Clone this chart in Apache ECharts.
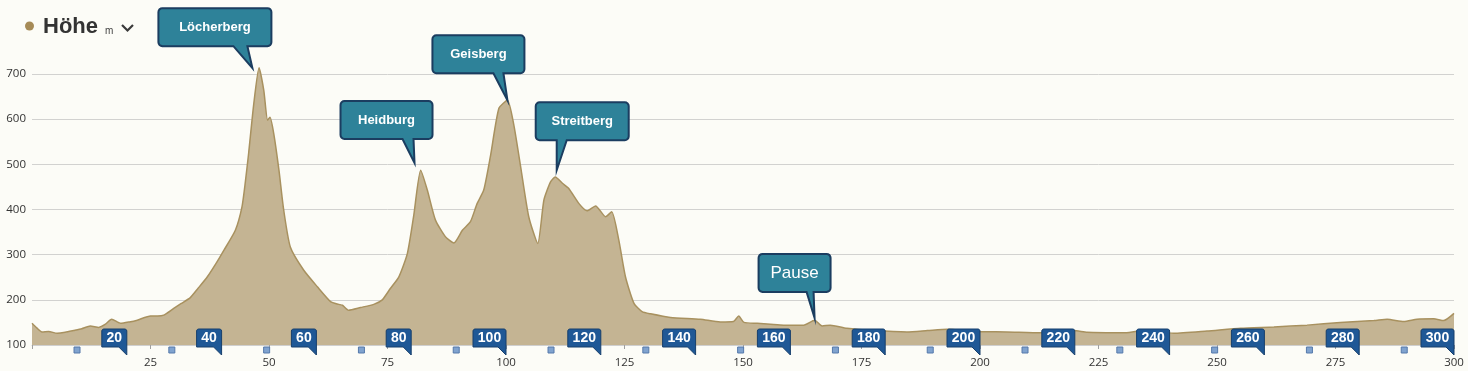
<!DOCTYPE html>
<html>
<head>
<meta charset="utf-8">
<script src="https://cdn.jsdelivr.net/npm/echarts@6/dist/echarts.min.js"></script>
<style>
html,body{margin:0;padding:0;background:#fcfcf7;}
#chart{width:1468px;height:371px;}
</style>
</head>
<body>
<div id="chart"></div>
<script>
// ---- data ----
const distanceKm = [0,1,2.1,3.5,5.3,7,8.8,10.5,12.3,14.1,15.5,16.8,18.7,20.5,22.2,25,26.5,27.8,29.9,31.5,33.4,35,37,38.8,40.5,42.9,44.3,45,45.7,46.8,47.9,48.9,49.7,50.2,51,52.1,53.1,54.5,57.3,60.2,63,64.7,65.5,66.8,69.3,72.1,73.9,75.6,77.4,79.2,80.5,82,83.4,85.1,87.2,89,90.8,92.5,93.9,95.3,96.7,98.5,100.3,101.6,103.1,104.8,106.7,108,109.4,110.4,111.9,113.2,115.4,117.1,118.9,121,122.3,123.8,125.2,127,128.7,130.5,134.7,141,145.2,148,149.1,150.2,153,155.8,158.6,162.8,165.1,166.7,168.4,171.9,177.6,184.6,188.9,193.1,198.7,205.7,212.8,219.8,222.6,230.3,233.9,240.9,247.9,255,262,269,276,283.1,285.9,289.4,292.2,295.7,297.8,300];
const elevationM = [148,138,129,130,126,128,132,136,142,139,146,157,148,151,155,164,164,166,181,192,205,225,251,280,310,354,406,460,524,635,714,664,598,604,568,487,399,317,266,229,196,190,188,177,183,190,200,225,251,303,384,487,443,377,340,326,354,373,413,443,517,624,642,590,494,384,325,421,461,472,458,447,413,397,408,384,395,332,251,192,174,169,161,157,151,152,164,150,148,146,144,144,155,142,144,137,132,129,132,135,130,129,127,132,128,127,131,126,131,137,140,144,150,154,157,152,157,158,154,170];

const peakNames = ['Löcherberg','Heidburg','Geisberg','Streitberg','Pause'];
const peakKm = [46.5, 80.7, 100.3, 110.7, 165.1];
const peakTipM = [713, 503, 642, 487, 160];

const kmMarkerKm = [20,40,60,80,100,120,140,160,180,200,220,240,260,280,300];
const kmMarkerLabels = ['20','40','60','80','100','120','140','160','180','200','220','240','260','280','300'];
const squareKm = [9.5,29.5,49.5,69.5,89.5,109.5,129.5,149.5,169.5,189.5,209.5,229.5,249.5,269.5,289.5];

const yTickMin = 100, yTickMax = 700, yTickStep = 100;
const xTickStep = 25;

// ---- styles (not data) ----
const calloutStyle = [
  {dx:-94, w:113, gap:22, b0:75, b1:89, font:'bold 13px "Liberation Sans", Arial, sans-serif'},
  {dx:-74, w:92,  gap:24, b0:62, b1:73, font:'bold 13px "Liberation Sans", Arial, sans-serif'},
  {dx:-75, w:92,  gap:27, b0:61, b1:71, font:'bold 13px "Liberation Sans", Arial, sans-serif'},
  {dx:-21, w:93,  gap:30, b0:21, b1:31, font:'bold 13px "Liberation Sans", Arial, sans-serif'},
  {dx:-56, w:72,  gap:26, b0:48, b1:55, font:'17px "Liberation Sans", Arial, sans-serif'}
];

function roundedCorner(cx, cy, r, a0, a1, n) {
  const pts = [];
  for (let k = 0; k <= n; k++) {
    const a = a0 + (a1 - a0) * k / n;
    pts.push([cx + r * Math.cos(a), cy + r * Math.sin(a)]);
  }
  return pts;
}

const chart = echarts.init(document.getElementById('chart'), null, {renderer:'canvas'});

const option = {
  backgroundColor: '#fcfcf7',
  animation: false,
  grid: {left: 32, right: 14, top: 74, bottom: 26, containLabel: false},
  xAxis: {
    type: 'value', min: 0, max: 300, interval: xTickStep,
    axisLine: {show: true, lineStyle: {color: '#cfcfcf', width: 1}},
    axisTick: {show: true, length: 4, lineStyle: {color: '#a0a0a0'}},
    axisLabel: {
      margin: 12, color: '#333', fontSize: 11.5, fontFamily: '"Open Sans", sans-serif',
      formatter: v => v === 0 ? '' : String(v)
    },
    splitLine: {show: false}
  },
  yAxis: {
    type: 'value', min: yTickMin, max: yTickMax, interval: yTickStep,
    axisLine: {show: false}, axisTick: {show: false},
    axisLabel: {margin: 6, color: '#333', fontSize: 11.5, fontFamily: '"Open Sans", sans-serif'},
    splitLine: {show: true, lineStyle: {color: '#d2d2d0', width: 1}}
  },
  graphic: [
    {type:'circle', shape:{cx:29.5, cy:26, r:4.5}, style:{fill:'#a68b57'}},
    {type:'text', x:43, y:27, style:{text:'Höhe', font:'bold 22px "Liberation Sans", Arial, sans-serif', fill:'#333333', verticalAlign:'middle'}},
    {type:'text', x:105, y:31, style:{text:'m', font:'10px "Liberation Sans", Arial, sans-serif', fill:'#444', verticalAlign:'middle'}},
    {type:'polyline', shape:{points:[[122,25],[127.5,30.5],[133,25]]}, style:{stroke:'#3a3a3a', lineWidth:2.2, fill:null}}
  ],
  series: [
    {
      type: 'line',
      data: distanceKm.map((d, i) => [d, elevationM[i]]),
      smooth: 0.2,
      symbol: 'none', clip: false,
      lineStyle: {color: '#a8915f', width: 1.5},
      areaStyle: {color: '#c4b493', opacity: 1},
      z: 2
    },
    {
      type: 'custom', clip: false, z: 4,
      data: squareKm.map(k => [k, yTickMin]),
      renderItem: (params, api) => {
        const p = api.coord([api.value(0), api.value(1)]);
        return {type:'rect', shape:{x:p[0]-3, y:p[1]+2, width:6, height:6},
          style:{fill:'#80a3cf', stroke:'#5579ab', lineWidth:1}};
      }
    },
    {
      type: 'custom', clip: false, z: 5,
      data: kmMarkerKm.map(k => [k, yTickMin]),
      renderItem: (params, api) => {
        const p = api.coord([api.value(0), api.value(1)]);
        const txt = kmMarkerLabels[params.dataIndex];
        const w = txt.length * 8 + 9;
        const tx = p[0], ty = p[1] + 10;
        const top = p[1] - 16, bottom = p[1] + 2, left = tx - w;
        const pts = [].concat(
          roundedCorner(left + 2, top + 2, 2, Math.PI, Math.PI * 1.5, 3),
          roundedCorner(tx - 2, top + 2, 2, Math.PI * 1.5, Math.PI * 2, 3),
          [[tx, ty], [tx - 8, bottom], [left, bottom]]
        );
        return {type:'group', children:[
          {type:'polygon', shape:{points:pts}, style:{fill:'#1f5896', stroke:'#173f6c', lineWidth:1}},
          {type:'text', style:{text:txt, x:left + w/2, y:(top+bottom)/2 + 0.5, align:'center', verticalAlign:'middle',
            fill:'#ffffff', font:'bold 14px "Liberation Sans", Arial, sans-serif'}}
        ]};
      }
    },
    {
      type: 'custom', clip: false, z: 6,
      data: peakKm.map((k, i) => [k, peakTipM[i]]),
      renderItem: (params, api) => {
        const p = api.coord([api.value(0), api.value(1)]);
        const s = calloutStyle[params.dataIndex];
        const tipX = p[0], tipY = p[1];
        const left = tipX + s.dx, right = left + s.w;
        const bottom = tipY - s.gap, top = bottom - 38;
        const r = 4;
        const pts = [].concat(
          roundedCorner(left + r, top + r, r, Math.PI, Math.PI * 1.5, 4),
          roundedCorner(right - r, top + r, r, Math.PI * 1.5, Math.PI * 2, 4),
          roundedCorner(right - r, bottom - r, r, 0, Math.PI * 0.5, 4),
          [[left + s.b1, bottom], [tipX, tipY], [left + s.b0, bottom]],
          roundedCorner(left + r, bottom - r, r, Math.PI * 0.5, Math.PI, 4)
        );
        return {type:'group', children:[
          {type:'polygon', shape:{points:pts}, style:{fill:'#2e8299', stroke:'#1b3d60', lineWidth:2}},
          {type:'text', style:{text:peakNames[params.dataIndex], x:(left+right)/2, y:(top+bottom)/2,
            align:'center', verticalAlign:'middle', fill:'#ffffff', font:s.font}}
        ]};
      }
    }
  ]
};
chart.setOption(option);
</script>
</body>
</html>
